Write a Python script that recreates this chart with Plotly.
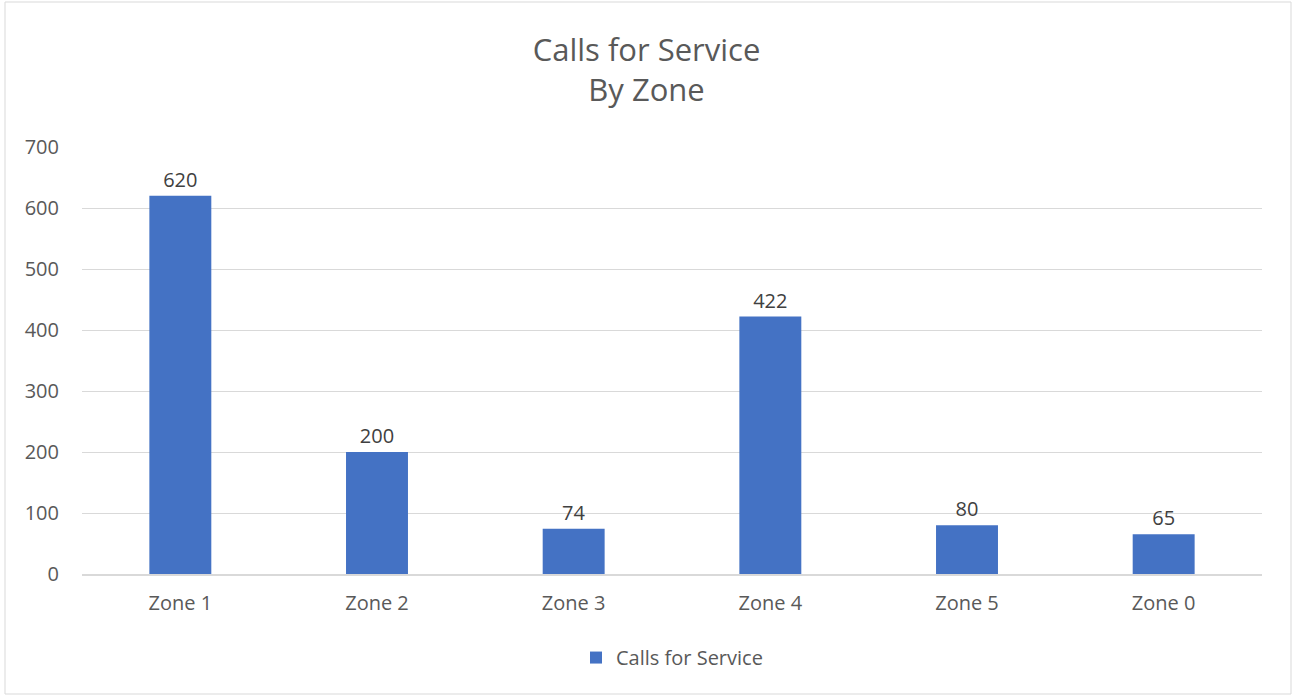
import plotly.graph_objects as go

zones = ["Zone 1", "Zone 2", "Zone 3", "Zone 4", "Zone 5", "Zone 0"]
calls = [620, 200, 74, 422, 80, 65]
y_ticks = [0, 100, 200, 300, 400, 500, 600, 700]

TXT = "#595959"
FONT = "Open Sans, Lato, sans-serif"

fig = go.Figure()
fig.add_trace(go.Bar(
    x=zones, y=calls, name="Calls for Service",
    marker=dict(color="#4472C4", line=dict(width=0)),
    text=[str(v) for v in calls], textposition="outside",
    textfont=dict(size=20, color="#404040", family=FONT),
    cliponaxis=False,
))

fig.update_layout(
    width=1293, height=696,
    paper_bgcolor="white", plot_bgcolor="white",
    font=dict(family=FONT, color=TXT, size=20),
    title=dict(text="Calls for Service<br>By Zone", x=0.5, xanchor="center",
               y=1 - 61/696, yanchor="middle",
               font=dict(size=31, color=TXT)),
    margin=dict(l=82, r=31, t=147, b=122),
    bargap=0.685,
    showlegend=True,
    legend=dict(orientation="h", x=0.5, xanchor="center", y=-0.15, yanchor="top",
                font=dict(size=20, color=TXT), itemwidth=30),
    xaxis=dict(showgrid=False, showline=True, linecolor="#D9D9D9", linewidth=1.5,
               ticks="", ticklabelstandoff=10, tickfont=dict(size=20, color=TXT)),
    yaxis=dict(range=[0, 700], tickvals=y_ticks, showgrid=True, gridcolor="#D9D9D9",
               gridwidth=1, zeroline=False, showline=False, ticks="",
               ticklabelstandoff=22,
               tickfont=dict(size=20, color=TXT)),
)
fig.add_shape(type="rect", xref="paper", yref="paper",
              x0=-77/1180, x1=1+29/1180, y0=-120/427, y1=1+145/427,
              line=dict(color="#D9D9D9", width=1))

fig.write_html("out.html", config={"displayModeBar": False},
               post_script="document.body.style.margin='0';")
